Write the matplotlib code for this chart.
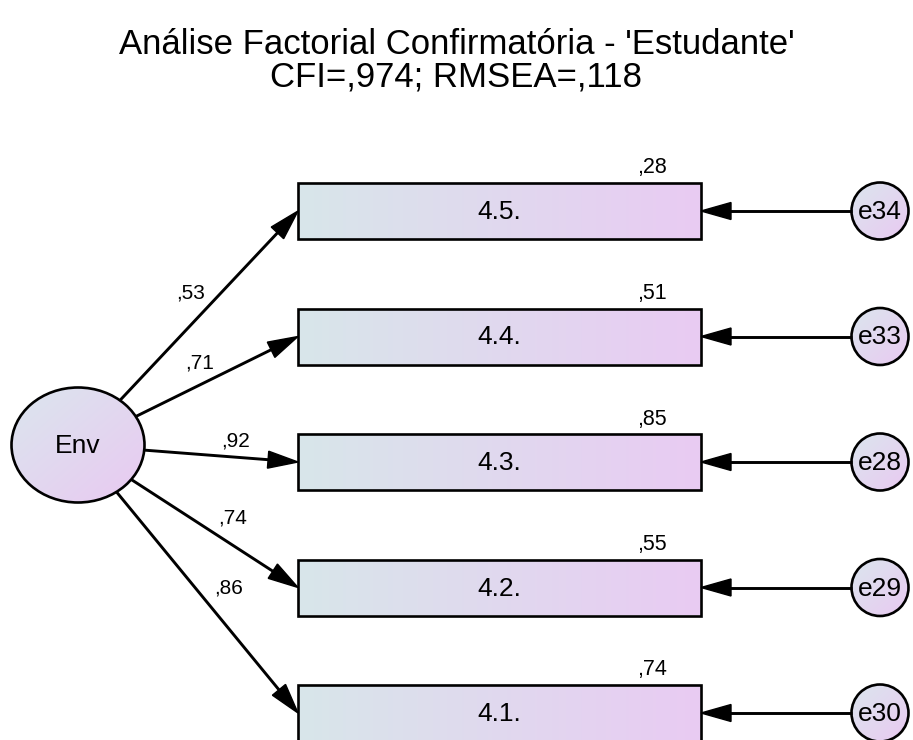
import numpy as np
import matplotlib
matplotlib.use('Agg')
import matplotlib.pyplot as plt
from matplotlib.patches import Rectangle, Ellipse, Circle, Polygon
from matplotlib.colors import to_rgb

plt.rcParams['font.family'] = ['Liberation Sans', 'DejaVu Sans']

# ---- data ----
title_line1 = "Análise Factorial Confirmatória - 'Estudante'"
title_line2 = "CFI=,974; RMSEA=,118"
latent = "Env"
indicators = ['4.5.', '4.4.', '4.3.', '4.2.', '4.1.']
loadings = [',53', ',71', ',92', ',74', ',86']
r_squared = [',28', ',51', ',85', ',55', ',74']
errors = ['e34', 'e33', 'e28', 'e29', 'e30']

# ---- layout (pixel coordinates) ----
W, H = 913, 740
lat_c = (78, 445); lat_a, lat_b = 66.5, 57.5
box_x0, box_w, box_h = 298, 403, 56
box_y0, box_dy = 211, 125.5
err_x, err_r = 880, 28.5
loading_pos = [(191, 293), (200, 363), (236, 441), (233, 518), (229, 588)]

C0_box, C1_box = '#d8e6ea', '#e9cbf3'
C0_ell, C1_ell = '#dbe6ee', '#e9c9f1'

fig = plt.figure(figsize=(W / 100, H / 100), dpi=100)
ax = fig.add_axes([0, 0, 1, 1])
ax.axis('off')


def gradient_fill(patch, x0, y0, x1, y1, c0, c1, diag):
    n = 256
    u = np.linspace(0, 1, n)
    X, Y = np.meshgrid(u, u)
    t = (X + Y) / 2 if diag else X
    img = (1 - t)[..., None] * np.array(to_rgb(c0)) + t[..., None] * np.array(to_rgb(c1))
    im = ax.imshow(img, extent=(x0, x1, y1, y0), origin='upper', zorder=1,
                   interpolation='bilinear', aspect='auto')
    im.set_clip_path(patch)


def arrow(p0, p1, L=30, hw=8.5, lw=2.1):
    p0 = np.array(p0, float); p1 = np.array(p1, float)
    d = p1 - p0; d /= np.hypot(*d)
    n = np.array([-d[1], d[0]])
    base = p1 - d * L
    ax.plot([p0[0], base[0] + d[0] * 2], [p0[1], base[1] + d[1] * 2], color='black', lw=lw,
            zorder=3, solid_capstyle='butt')
    tri = Polygon([p1, base + n * hw, base - n * hw], closed=True, color='black', zorder=4)
    ax.add_patch(tri)


# latent ellipse
ell = Ellipse(lat_c, 2 * lat_a, 2 * lat_b, facecolor='none', edgecolor='black', lw=1.9, zorder=5)
ax.add_patch(ell)
gradient_fill(ell, lat_c[0] - lat_a, lat_c[1] - lat_b, lat_c[0] + lat_a, lat_c[1] + lat_b,
              C0_ell, C1_ell, True)
ax.text(lat_c[0], lat_c[1] + 1, latent, ha='center', va='center', fontsize=19, zorder=6)

for i, (ind, ld, r2, e) in enumerate(zip(indicators, loadings, r_squared, errors)):
    yc = box_y0 + i * box_dy
    rect = Rectangle((box_x0, yc - box_h / 2), box_w, box_h, facecolor='none',
                     edgecolor='black', lw=1.9, zorder=5)
    ax.add_patch(rect)
    gradient_fill(rect, box_x0, yc - box_h / 2, box_x0 + box_w, yc + box_h / 2,
                  C0_box, C1_box, False)
    ax.text(box_x0 + box_w / 2, yc + 1, ind, ha='center', va='center', fontsize=19, zorder=6)
    ax.text(652, yc - box_h / 2 - 15, r2, ha='center', va='center', fontsize=15.5, zorder=6)

    # path from latent to indicator
    target = np.array([box_x0, yc])
    d = target - np.array(lat_c)
    t = 1 / np.sqrt((d[0] / lat_a) ** 2 + (d[1] / lat_b) ** 2)
    start = np.array(lat_c) + d * t
    arrow(start, target)
    ax.text(loading_pos[i][0], loading_pos[i][1], ld, ha='center', va='center', fontsize=15, zorder=6)

    # error term
    circ = Circle((err_x, yc), err_r, facecolor='none', edgecolor='black', lw=1.9, zorder=5)
    ax.add_patch(circ)
    gradient_fill(circ, err_x - err_r, yc - err_r, err_x + err_r, yc + err_r,
                  C0_ell, C1_ell, True)
    ax.text(err_x, yc + 1, e, ha='center', va='center', fontsize=19, zorder=6)
    arrow((err_x - err_r, yc), (box_x0 + box_w, yc))

ax.text(W / 2, 44, title_line1, ha='center', va='center', fontsize=25)
ax.text(W / 2, 77, title_line2, ha='center', va='center', fontsize=25)

ax.set_xlim(0, W)
ax.set_ylim(H, 0)
fig.savefig('out.png', dpi=100)
